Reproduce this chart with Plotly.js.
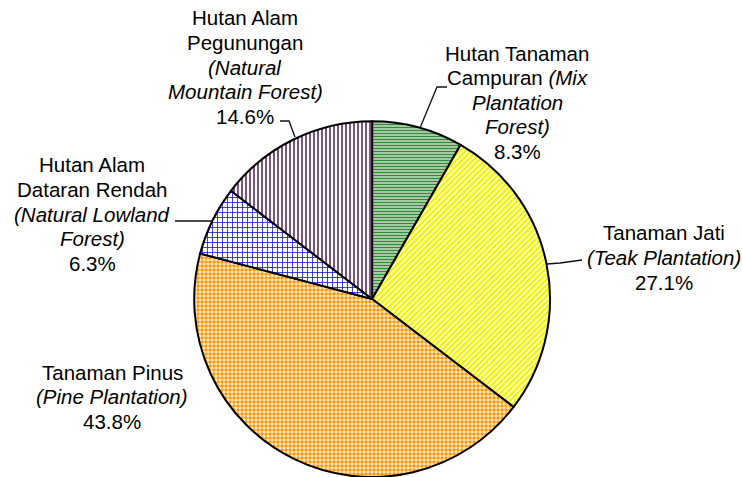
<!DOCTYPE html>
<html>
<head>
<meta charset="utf-8">
<script src="https://cdn.plot.ly/plotly-3.0.1.min.js"></script>
<style>
html,body{margin:0;padding:0;background:#fff;}
#chart{width:742px;height:477px;}
</style>
</head>
<body>
<div id="chart"></div>
<script>
// ---- data ----
const categories = [
  "Hutan Tanaman Campuran (Mix Plantation Forest)",
  "Tanaman Jati (Teak Plantation)",
  "Tanaman Pinus (Pine Plantation)",
  "Hutan Alam Dataran Rendah (Natural Lowland Forest)",
  "Hutan Alam Pegunungan (Natural Mountain Forest)"
];
const values = [8.3, 27.1, 43.8, 6.3, 14.6];
const labelText = [
  ["Hutan Tanaman", "Campuran <i>(Mix</i>", "<i>Plantation</i>", "<i>Forest)</i>"],
  ["Tanaman Jati", "<i>(Teak Plantation)</i>"],
  ["Tanaman Pinus", "<i>(Pine Plantation)</i>"],
  ["Hutan Alam", "Dataran Rendah", "<i>(Natural Lowland</i>", "<i>Forest)</i>"],
  ["Hutan Alam", "Pegunungan", "<i>(Natural</i>", "<i>Mountain Forest)</i>"]
];

// ---- styling / layout ----
const W = 742, H = 477;
const patShapes = ["-", "/", ".", "+", "|"];
const patFg = ["#37883a", "#f2f200", "#ff9600", "#1a1ad0", "#5a1a5a"];
const patBg = ["#d6ead6", "#ffffd8", "#fff0d6", "#ffffff", "#ffffff"];
const patSize = [3, 4, 4, 5, 4];
const patSolid = [0.55, 0.55, 0.55, 0.3, 0.38];

// label anchor (center x, first-line center y) in pixels
const labelPos = [[517, 53], [664, 233], [112, 372], [92, 165], [245, 18]];
const lineGap = 24.6;
// leader lines in pixels
const leaders = [
  [[447, 87], [437, 87], [420, 128]],
  [[582, 260], [560, 263], [547, 264]],
  null,
  [[175, 221], [212, 221]],
  [[280, 121], [289, 121], [295, 137]]
];

const px = x => x / W;
const py = y => 1 - y / H;

const annotations = [];
labelText.forEach((lines, i) => {
  const all = lines.concat([values[i].toFixed(1) + "%"]);
  all.forEach((t, j) => {
    annotations.push({
      text: t, xref: "paper", yref: "paper",
      x: px(labelPos[i][0]), y: py(labelPos[i][1] + j * lineGap),
      xanchor: "center", yanchor: "middle", showarrow: false,
      font: {family: "Liberation Sans, Arial, sans-serif", size: 20.5, color: "#000"}
    });
  });
});

const shapes = [];
leaders.forEach(pts => {
  if (!pts) return;
  const d = pts.map((p, k) => (k ? "L" : "M") + px(p[0]) + "," + py(p[1])).join(" ");
  shapes.push({type: "path", xref: "paper", yref: "paper", path: d,
    line: {color: "#111", width: 1.3}});
});

const trace = {
  type: "pie",
  labels: categories,
  values: values,
  sort: false,
  direction: "clockwise",
  rotation: 0,
  textinfo: "none",
  hoverinfo: "label+percent",
  domain: {x: [0.25, 0.753], y: [0, 0.746]},
  marker: {
    colors: patBg,
    line: {color: "#000", width: 2},
    pattern: {
      shape: patShapes, fgcolor: patFg, bgcolor: patBg,
      size: patSize, solidity: patSolid, fillmode: "replace"
    }
  }
};

Plotly.newPlot("chart", [trace], {
  width: W, height: H,
  margin: {l: 0, r: 0, t: 0, b: 0},
  showlegend: false,
  paper_bgcolor: "#fff",
  annotations: annotations,
  shapes: shapes
}, {displayModeBar: false, staticPlot: true});
</script>
</body>
</html>
